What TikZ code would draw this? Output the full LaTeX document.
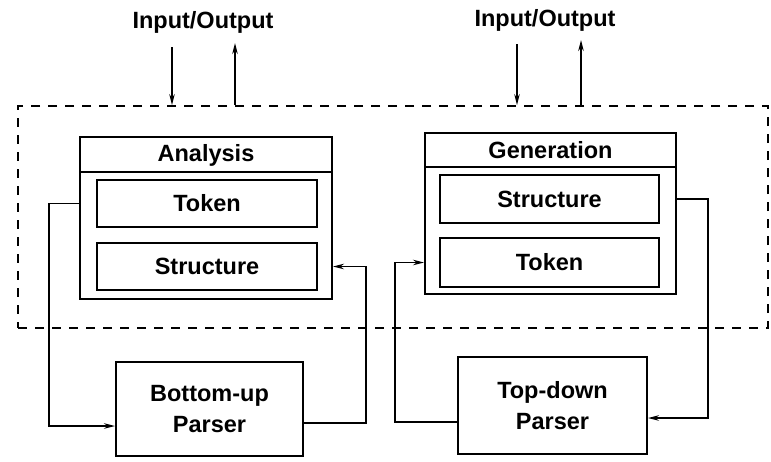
\documentclass[tikz,border=0pt]{standalone}
\usepackage{fontspec}
\setmainfont{Liberation Sans}
\usetikzlibrary{arrows.meta,calc}
\begin{document}
\begin{tikzpicture}[x=1pt,y=-1pt,
  lbl/.style={font=\fontsize{23.5}{31}\selectfont\bfseries, align=center},
  outerbox/.style={draw, line width=2pt, inner sep=0pt},
  innerbox/.style={draw, line width=2.4pt, inner sep=0pt, lbl},
  parserbox/.style={draw, line width=2pt, inner sep=0pt, lbl},
  sysbox/.style={draw, dash pattern=on 9pt off 8pt, line width=1.8pt, inner sep=0pt},
  arr/.style={line width=1.5pt, -{Stealth[length=11pt,width=5.5pt]}},
  link/.style={line width=1.5pt}]
\useasboundingbox (0,0) rectangle (771,461);

% system boundary
\node[sysbox, minimum width=750pt, minimum height=222pt] (sys) at (393,217) {};

% analysis side
\node[outerbox, minimum width=252pt, minimum height=162pt] (an) at (206,218) {};
\draw[line width=1.5pt] (an.west |- 0,172) -- (an.east |- 0,172);
\node[lbl] (antitle) at (206,155) {Analysis};
\node[innerbox, minimum width=220pt, minimum height=47pt] (atok) at (207,203.5) {Token};
\node[innerbox, minimum width=220pt, minimum height=47pt] (astr) at (207,266.5) {Structure};

% generation side
\node[outerbox, minimum width=251pt, minimum height=161pt] (gen) at (550.5,213.5) {};
\draw[line width=1.5pt] (gen.west |- 0,167) -- (gen.east |- 0,167);
\node[lbl] (gentitle) at (550.5,150) {Generation};
\node[innerbox, minimum width=219pt, minimum height=48pt] (gstr) at (549.5,199) {Structure};
\node[innerbox, minimum width=219pt, minimum height=49pt] (gtok) at (549.5,262.5) {Token};

% parsers
\node[parserbox, minimum width=187pt, minimum height=94pt] (bu) at (209.5,409) {Bottom-up\\Parser};
\node[parserbox, minimum width=189pt, minimum height=97pt] (td) at (552.5,405.5) {Top-down\\Parser};

% input/output labels
\node[lbl] (io1) at (203,22) {Input/Output};
\node[lbl] (io2) at (545,20) {Input/Output};
\coordinate (in1) at (172,47);
\coordinate (out1) at (235,43);
\coordinate (in2) at (517,44);
\coordinate (out2) at (581,40);
\draw[arr] (in1) -- (in1 |- sys.north);
\draw[arr] (out1 |- sys.north) -- (out1);
\draw[arr] (in2) -- (in2 |- sys.north);
\draw[arr] (out2 |- sys.north) -- (out2);

% analysis loop through the bottom-up parser
\draw[arr] (an.west |- atok) -- ++(-30,0) |- ([yshift=-17pt]bu.west);
\draw[arr] ([yshift=-14pt]bu.east) -- ++(62,0) |- (an.east |- astr);

% generation loop through the top-down parser
\draw[arr] (gen.east |- gstr) -- ++(31,0) |- ([yshift=-12.5pt]td.east);
\draw[arr] ([yshift=-16.5pt]td.west) -- ++(-62,0) |- (gen.west |- gtok);
\end{tikzpicture}
\end{document}
